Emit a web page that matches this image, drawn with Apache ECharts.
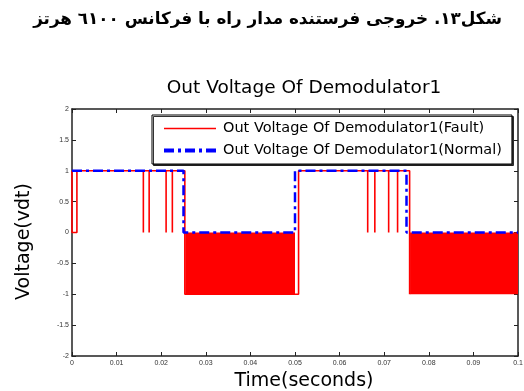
<!DOCTYPE html>
<html>
<head>
<meta charset="utf-8">
<script src="https://cdn.jsdelivr.net/npm/echarts@6/dist/echarts.min.js"></script>
<style>
  html, body { margin: 0; padding: 0; background: #fff; }
  #chart { width: 524px; height: 391px; }
</style>
</head>
<body>
<div id="chart"></div>
<script>
// Figure caption and chart texts
const captionText = 'شکل١٣. خروجی فرستنده مدار راه با فرکانس ٦١٠٠ هرتز';
const chartTitle = 'Out Voltage Of Demodulator1';
const faultName = 'Out Voltage Of Demodulator1(Fault)';
const normalName = 'Out Voltage Of Demodulator1(Normal)';

// Axis ticks
const xTicks = [0, 0.01, 0.02, 0.03, 0.04, 0.05, 0.06, 0.07, 0.08, 0.09, 0.1];
const yTicks = [-2, -1.5, -1, -0.5, 0, 0.5, 1, 1.5, 2];

// Normal demodulator output: square wave (time, volts)
const normalTime  = [0, 0.025, 0.025, 0.05, 0.05, 0.075, 0.075, 0.1];
const normalValue = [1, 1,     0,     0,    1,    1,     0,     0];

// Faulty output: step outline (time, volts)
const faultTime  = [0, 0, 0.0011, 0.0011, 0.0253, 0.0253, 0.0500, 0.0508, 0.0508, 0.0757, 0.0757];
const faultValue = [1, 0, 0,      1,      1,      -1,     -1,     -1,     1,      1,      -1];

// Faulty output: short glitches from 1 down to 0 (time)
const glitchTimes = [0.0160, 0.0173, 0.0211, 0.0225, 0.0663, 0.0679, 0.0710, 0.0730];

// Faulty output: 6100 Hz carrier bursts swinging between 0 and -1 (start, end)
const burstStart = [0.0254, 0.0758];
const burstEnd   = [0.0500, 0.1000];
const burstHigh = 0, burstLow = -1;

// Build the fault polyline, inserting each glitch after the step vertices that precede it
const events = [];
faultTime.forEach((t, i) => events.push({ t, seq: i, pts: [[t, faultValue[i]]] }));
glitchTimes.forEach(t => {
  const before = faultTime.filter(ft => ft <= t).length - 1;
  events.push({ t, seq: before + 0.5, pts: [[t, 1], [t, 0], [t, 1]] });
});
events.sort((a, b) => a.t - b.t || a.seq - b.seq);
const faultLine = [];
events.forEach(e => e.pts.forEach(p => faultLine.push(p)));

const normalLine = normalTime.map((t, i) => [t, normalValue[i]]);
const burstData = burstStart.map((s, i) => [s, burstEnd[i], burstHigh, burstLow]);

const chart = echarts.init(document.getElementById('chart'), null, { renderer: 'canvas' });

const axisColor = '#222';
const textFont = 'DejaVu Sans';
const labelFont = { fontSize: 7, color: '#333', fontFamily: 'Liberation Sans' };
const fmtTick = v => String(Math.round(v * 1000) / 1000);

const tickStyle = { show: true, inside: true, length: 4, lineStyle: { color: axisColor, width: 1 } };
const lineStyleAxis = { show: true, onZero: false, lineStyle: { color: axisColor, width: 1.5 } };

chart.setOption({
  animation: false,
  backgroundColor: '#fff',
  title: [
    {
      text: captionText,
      right: 17, top: 6,
      textStyle: { fontFamily: textFont, fontWeight: 'bold', fontSize: 16.8, color: '#000' }
    },
    {
      text: chartTitle,
      left: 299, top: 74, textAlign: 'center',
      textStyle: { fontFamily: textFont, fontWeight: 'normal', fontSize: 18.5, color: '#000' }
    }
  ],
  legend: {
    left: 152, top: 115,
    orient: 'vertical',
    backgroundColor: '#fff',
    borderColor: '#000', borderWidth: 1,
    shadowColor: 'rgba(0,0,0,0.8)', shadowOffsetX: 1.5, shadowOffsetY: 1.5, shadowBlur: 0,
    padding: [6, 10, 6, 10],
    itemGap: 7,
    itemWidth: 52, itemHeight: 14,
    itemStyle: { opacity: 0 },
    textStyle: { fontFamily: textFont, fontSize: 14.5, color: '#000', padding: [0, 0, 0, 2] },
    data: [
      { name: faultName, lineStyle: { width: 1.6 } },
      { name: normalName, lineStyle: { width: 4 } }
    ]
  },
  grid: { left: 72, right: 6, top: 109, bottom: 35, outerBoundsMode: 'none', containLabel: false },
  xAxis: [
    {
      type: 'value', min: 0, max: 0.1, interval: 0.01,
      name: 'Time(seconds)', nameLocation: 'middle', nameGap: 10,
      nameTextStyle: { fontFamily: textFont, fontSize: 19, color: '#000', padding: [0, 0, 0, 18] },
      axisLine: lineStyleAxis,
      axisTick: tickStyle,
      axisLabel: Object.assign({ margin: 4, formatter: fmtTick }, labelFont),
      splitLine: { show: false }
    },
    {
      type: 'value', min: 0, max: 0.1, interval: 0.01, position: 'top',
      axisLine: lineStyleAxis,
      axisTick: tickStyle,
      axisLabel: { show: false },
      splitLine: { show: false }
    }
  ],
  yAxis: [
    {
      type: 'value', min: -2, max: 2, interval: 0.5,
      name: 'Voltage(vdt)', nameLocation: 'middle', nameGap: 38,
      nameTextStyle: { fontFamily: textFont, fontSize: 19, color: '#000', padding: [0, 18, 0, 0] },
      axisLine: lineStyleAxis,
      axisTick: tickStyle,
      axisLabel: Object.assign({ margin: 3, formatter: fmtTick }, labelFont),
      splitLine: { show: false }
    },
    {
      type: 'value', min: -2, max: 2, interval: 0.5, position: 'right',
      axisLine: lineStyleAxis,
      axisTick: tickStyle,
      axisLabel: { show: false },
      splitLine: { show: false }
    }
  ],
  series: [
    {
      name: faultName,
      type: 'line',
      data: faultLine,
      symbol: 'none',
      z: 2,
      lineStyle: { color: '#ff0000', width: 1.6 },
      itemStyle: { color: '#ff0000' }
    },
    {
      name: 'carrier',
      type: 'custom',
      data: burstData,
      encode: { x: [0, 1], y: [2, 3] },
      z: 2,
      renderItem: (params, api) => {
        const p0 = api.coord([api.value(0), api.value(2)]);
        const p1 = api.coord([api.value(1), api.value(3)]);
        return {
          type: 'rect',
          shape: { x: p0[0], y: p0[1], width: p1[0] - p0[0], height: p1[1] - p0[1] },
          style: { fill: '#ff0000' }
        };
      }
    },
    {
      name: normalName,
      type: 'line',
      data: normalLine,
      symbol: 'none',
      z: 3,
      lineStyle: { color: '#0000ff', width: 2.5, type: [10, 4, 3, 4] },
      itemStyle: { color: '#0000ff' }
    }
  ]
});
</script>
</body>
</html>
